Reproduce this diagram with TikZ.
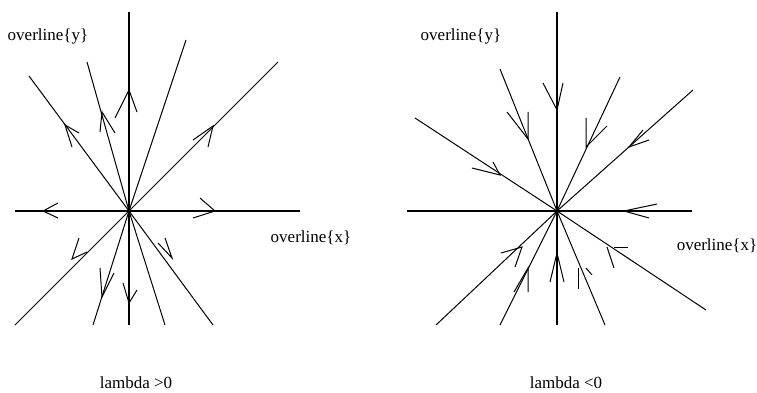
\documentclass[tikz,border=0pt]{standalone}
\usepackage{fontspec}
\setmainfont{Liberation Serif}
\usepackage{tikz}

\begin{document}
\begin{tikzpicture}[
    x=1pt, y=-1pt,
    axis/.style={line width=1.4pt},
    ray/.style={line width=1pt},
    head/.style={line width=1pt},
    label/.style={font=\fontsize{17}{20}\selectfont, inner sep=0pt}
]
\useasboundingbox (0,0) rectangle (757,393);

% ----- Left: lambda > 0 -----
\coordinate (LO) at (129,211);
\draw[axis] (129,12) -- (129,325);
\draw[axis] (15,211) -- (300,211);
\foreach \ex/\ey in {278/62, 15/325, 29/76, 213/325, 87/62, 165/325, 186/40, 93/325}{
    \draw[ray] (LO) -- (\ex,\ey);
}
% arrow heads (outward)
\foreach \ax/\ay/\tx/\ty/\bx/\by in {
    115/118/129/90/137/112,   123/283/129/303/137/290,
    58/203/43/211/58/218,     200/198/215/211/193/218,
    193/140/213/126/208/147,  79/238/72/259/87/252,
    79/133/65/125/72/147,     165/238/172/258/158/243,
    100/132/102/112/115/133,  100/268/102/297/114/273}{
    \draw[head] (\ax,\ay) -- (\tx,\ty) -- (\bx,\by);
}
\node[label] (ly1) at (48,36) {overline\{y\}};
\node[label] (lx1) at (311,238) {overline\{x\}};
\node[label] (lam1) at (136,383) {lambda >0};

% ----- Right: lambda < 0 -----
\coordinate (RO) at (557,211);
\draw[axis] (557,12) -- (557,325);
\draw[axis] (407,211) -- (692,211);
\foreach \ex/\ey in {415/118, 706/310, 500/69, 605/325, 620/77, 500/325, 693/90, 436/325}{
    \draw[ray] (RO) -- (\ex,\ey);
}
% arrow heads (inward)
\foreach \ax/\ay/\tx/\ty/\bx/\by in {
    543/83/557/110/563/83,    550/282/557/253/564/282,
    657/204/624/211/649/218,  507/112/528/139/528/112,
    586/118/586/147/607/126,  643/130/629/147/649/140,
    472/168/500/175/493/162,  501/253/522/247/515/267,
    514/292/528/268/528/292}{
    \draw[head] (\ax,\ay) -- (\tx,\ty) -- (\bx,\by);
}
% broken heads
\draw[head] (578,268) -- (578,289);
\draw[head] (586,268) -- (592,275);
\draw[head] (607,247) -- (614,268);
\draw[head] (614,247) -- (628,247);
\node[label] (ly2) at (461,36) {overline\{y\}};
\node[label] (lx2) at (717,246) {overline\{x\}};
\node[label] (lam2) at (566,383) {lambda <0};

\end{tikzpicture}
\end{document}
